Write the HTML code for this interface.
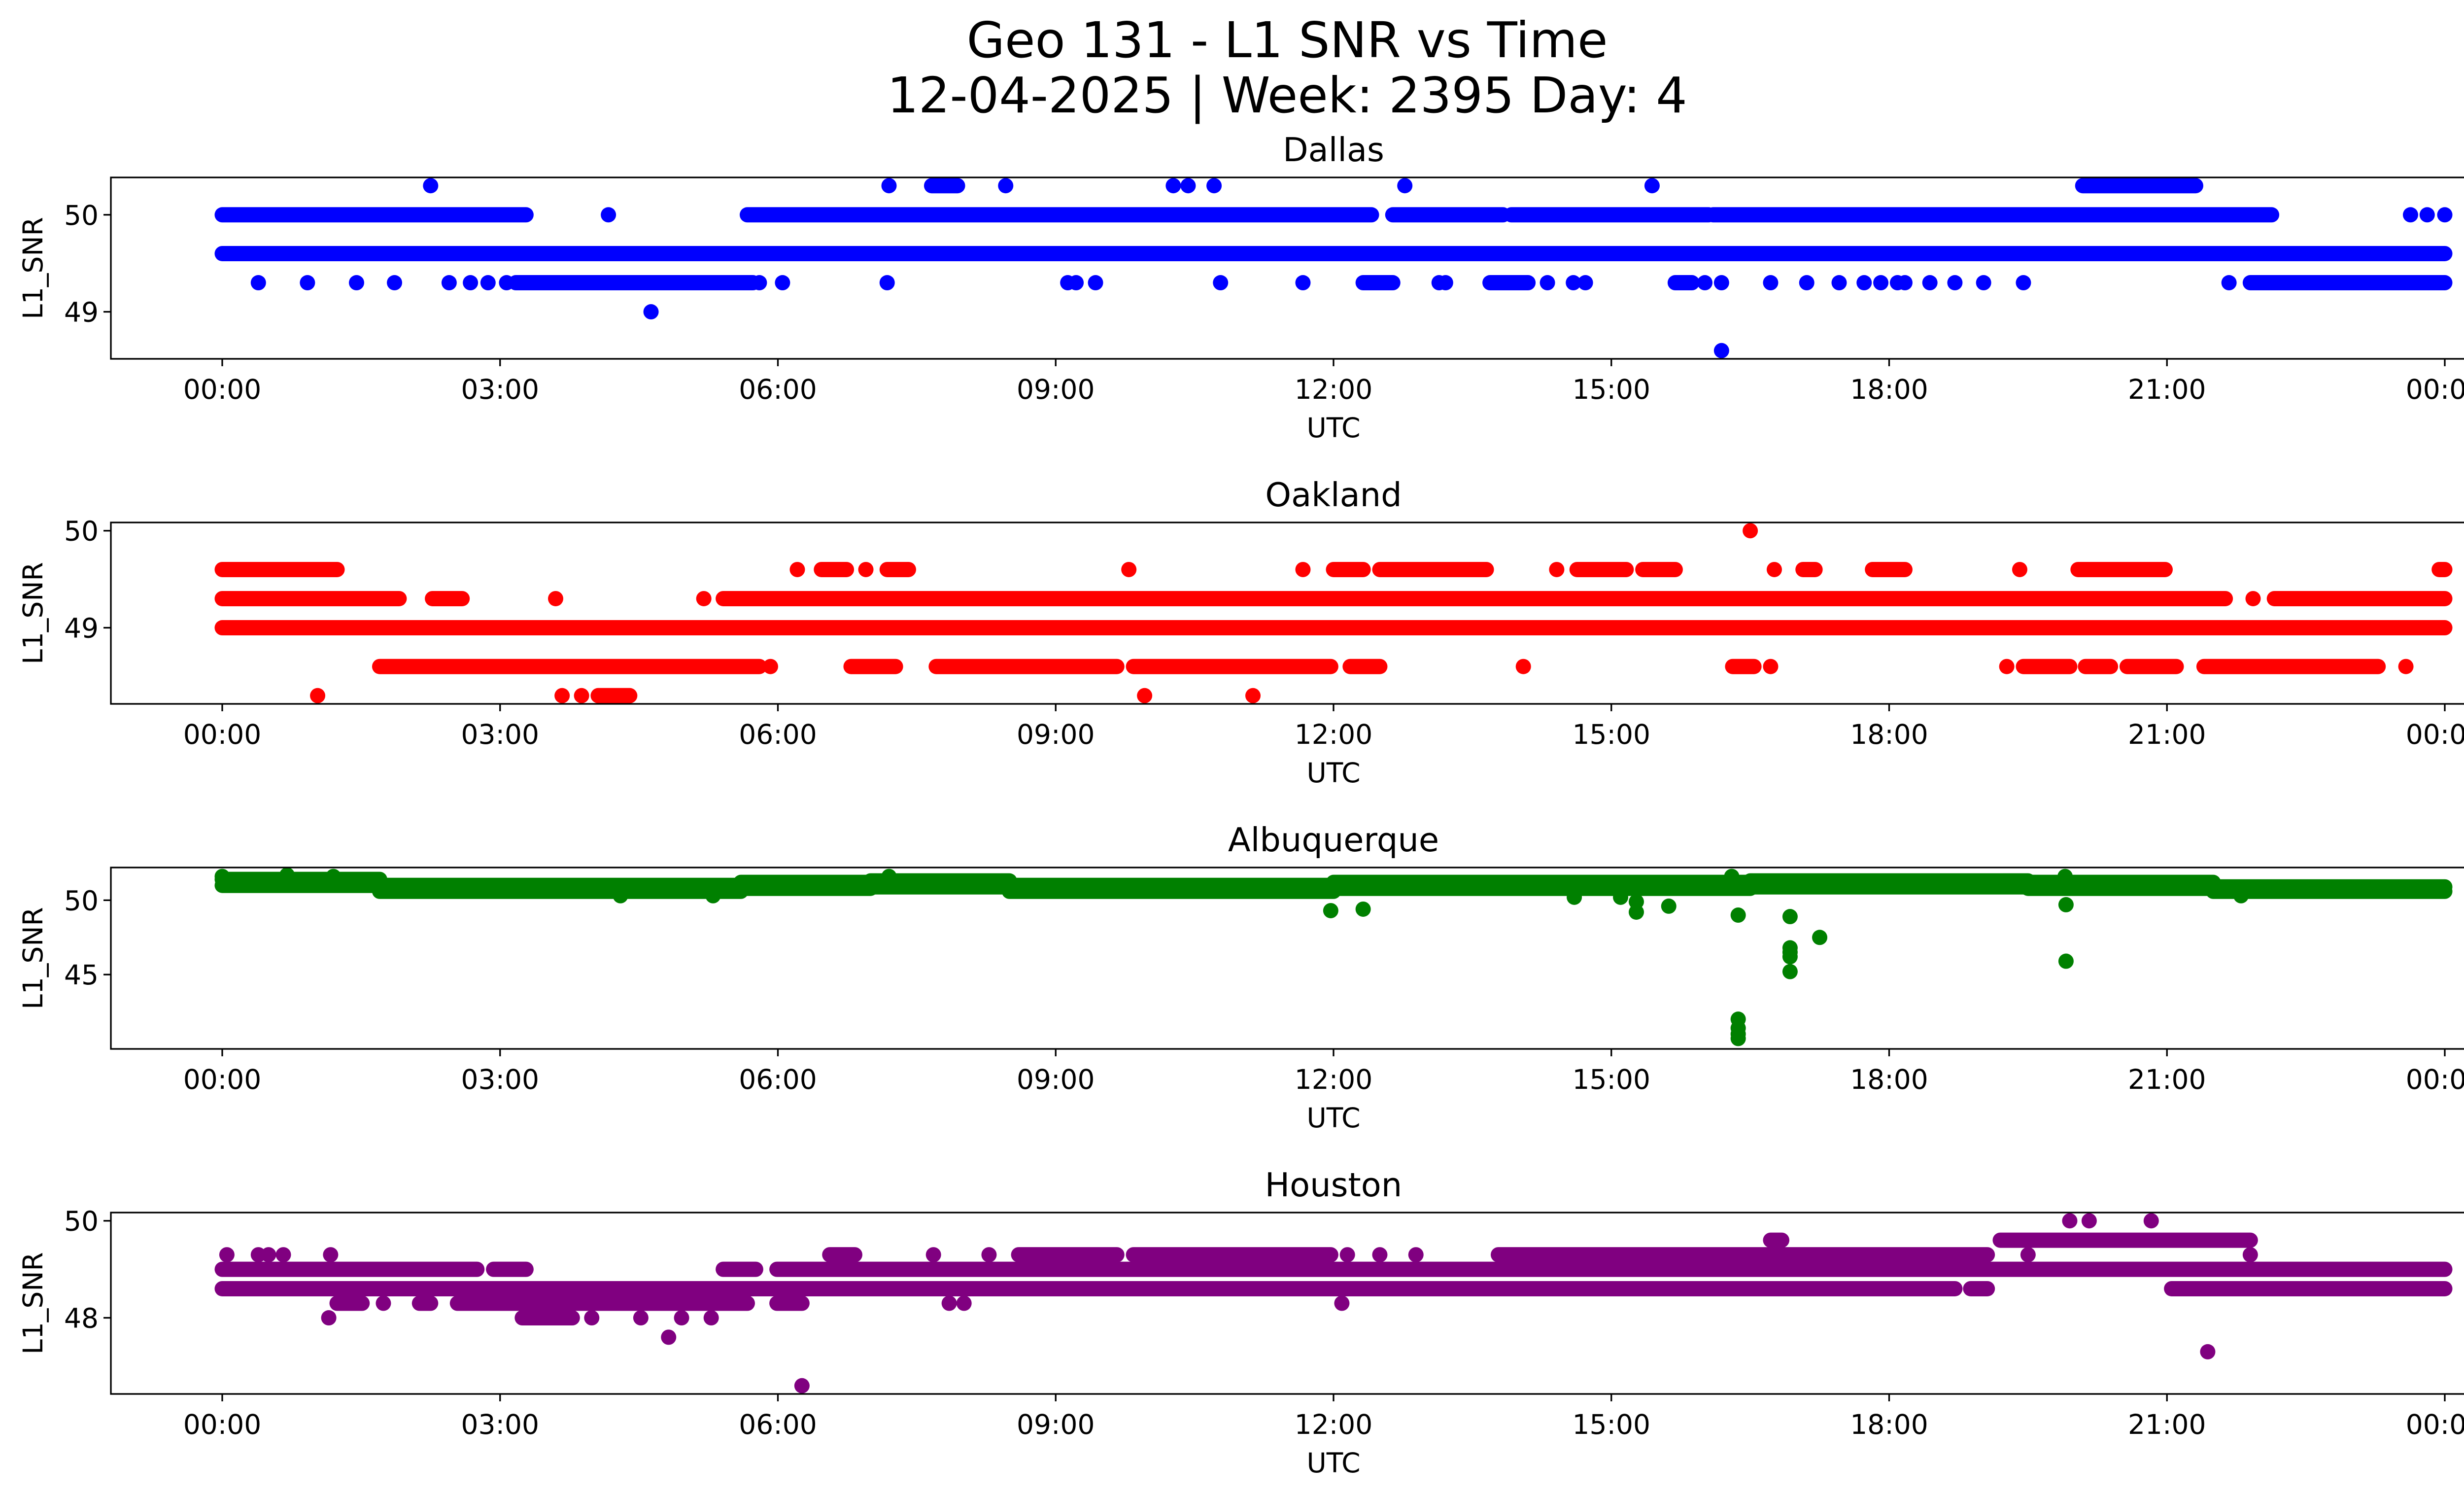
<!DOCTYPE html>
<html><head><meta charset="utf-8"><style>
html,body{margin:0;padding:0;background:#fff}
svg{display:block}
text{font-family:"DejaVu Sans","Liberation Sans",sans-serif;fill:#000}
</style></head><body>
<svg id="fig" width="5225" height="3033" viewBox="0 0 5225 3033" xmlns="http://www.w3.org/2000/svg">
<rect x="0" y="0" width="5225" height="3033" fill="#fff"/>
<text x="2612" y="116" font-size="100" text-anchor="middle">Geo 131 - L1 SNR vs Time</text>
<text x="2612" y="228" font-size="100" text-anchor="middle">12-04-2025 | Week: 2395 Day: 4</text>
</svg>
<script>
// ---- data (hours UTC, L1 SNR); start==end means single point ----
const xTickLabels = ["00:00","03:00","06:00","09:00","12:00","15:00","18:00","21:00","00:00"];
const xTickHours = [0,3,6,9,12,15,18,21,24];

const dallasStart = [0, 0,4.17,5.67,12.64,13.92,16.1,23.63,23.81,24,
 0.39,0.92,1.45,1.86,2.45,2.68,2.87,3.07,3.17,5.8,6.05,7.18,9.13,9.22,9.43,10.78,11.67,12.32,13.14,13.21,13.69,14.31,14.59,14.72,15.69,16.01,16.19,16.72,17.11,17.46,17.73,17.91,18.09,18.17,18.44,18.71,19.02,19.45,21.67,21.9,
 2.25,7.2,7.66,8.46,10.27,10.43,10.71,12.77,15.44,20.09, 4.63,16.19];
const dallasEnd = [24, 3.28,4.17,12.41,13.83,16.05,22.13,23.63,23.81,24,
 0.39,0.92,1.45,1.86,2.45,2.68,2.87,3.07,5.73,5.8,6.05,7.18,9.13,9.22,9.43,10.78,11.67,12.64,13.14,13.21,14.1,14.31,14.59,14.72,15.87,16.01,16.19,16.72,17.11,17.46,17.73,17.91,18.09,18.17,18.44,18.71,19.02,19.45,21.67,24,
 2.25,7.2,7.94,8.46,10.27,10.43,10.71,12.77,15.44,21.31, 4.63,16.19];
const dallasValue = [49.6, 50,50,50,50,50,50,50,50,50,
 49.3,49.3,49.3,49.3,49.3,49.3,49.3,49.3,49.3,49.3,49.3,49.3,49.3,49.3,49.3,49.3,49.3,49.3,49.3,49.3,49.3,49.3,49.3,49.3,49.3,49.3,49.3,49.3,49.3,49.3,49.3,49.3,49.3,49.3,49.3,49.3,49.3,49.3,49.3,49.3,
 50.3,50.3,50.3,50.3,50.3,50.3,50.3,50.3,50.3,50.3, 49,48.6];

const oaklandStart = [0,
 0,6.21,6.47,6.95,7.18,9.79,11.67,12.0,12.5,14.41,14.63,15.34,16.76,17.07,17.82,19.41,20.04,23.94,
 0,2.27,3.6,5.2,5.41,21.93,22.16,
 1.7,5.92,6.79,7.71,9.84,12.18,14.05,16.31,16.72,19.27,19.45,20.12,20.57,21.4,23.58,
 1.03,3.67,3.88,4.06,9.96,11.13, 16.5];
const oaklandEnd = [24,
 1.24,6.21,6.74,6.95,7.41,9.79,11.67,12.32,13.65,14.41,15.16,15.69,16.76,17.2,18.17,19.41,20.98,24,
 1.91,2.59,3.6,5.2,21.63,21.93,24,
 5.8,5.92,7.27,9.66,11.97,12.5,14.05,16.54,16.72,19.27,19.95,20.39,21.1,23.28,23.58,
 1.03,3.67,3.88,4.4,9.96,11.13, 16.5];
const oaklandValue = [49,
 49.6,49.6,49.6,49.6,49.6,49.6,49.6,49.6,49.6,49.6,49.6,49.6,49.6,49.6,49.6,49.6,49.6,49.6,
 49.3,49.3,49.3,49.3,49.3,49.3,49.3,
 48.6,48.6,48.6,48.6,48.6,48.6,48.6,48.6,48.6,48.6,48.6,48.6,48.6,48.6,48.6,
 48.3,48.3,48.3,48.3,48.3,48.3, 50];

const albuqStart = [0,1.7,5.6,7.0,8.5,12.0,16.5,19.5,21.5,
 0,1.7,5.6,7.0,8.5,12.0,16.5,19.5,21.5,
 0,0.7,1.2,7.2,16.3,19.9,4.3,5.3,14.6,15.1,21.8,
 11.97,12.32,15.27,15.27,15.62,16.37,16.37,16.37,16.37,16.37,16.93,16.93,16.93,16.93,16.93,17.25,19.91,19.91];
const albuqEnd = [1.7,5.6,7.0,8.5,12.0,16.5,19.5,21.5,24,
 1.7,5.6,7.0,8.5,12.0,16.5,19.5,21.5,24,
 0,0.7,1.2,7.2,16.3,19.9,4.3,5.3,14.6,15.1,21.8,
 11.97,12.32,15.27,15.27,15.62,16.37,16.37,16.37,16.37,16.37,16.93,16.93,16.93,16.93,16.93,17.25,19.91,19.91];
const albuqValue = [51.4,51.0,51.2,51.3,51.0,51.2,51.3,51.2,50.9,
 51.0,50.6,50.8,50.9,50.6,50.8,50.9,50.8,50.6,
 51.6,51.7,51.6,51.6,51.6,51.6,50.3,50.3,50.2,50.2,50.3,
 49.3,49.4,49.9,49.2,49.6,49.0,42.0,41.4,41.0,40.7,48.9,46.8,46.5,46.2,45.2,47.5,49.7,45.9];

const houstonStart = [0,2.93,5.41,5.99,
 0,18.88,21.05,
 1.24,1.74,2.13,2.54,5.99,7.85,8.01,12.09,
 1.15,3.24,3.99,4.52,4.96,5.28, 4.82,6.26,21.44,
 0.05,0.39,0.5,0.66,1.17,6.56,7.68,8.28,8.6,9.84,12.15,12.5,12.89,13.78,19.5,21.9,
 16.72,19.2, 19.95,20.16,20.83];
const houstonEnd = [2.75,3.28,5.76,24,
 18.71,19.06,24,
 1.51,1.74,2.25,5.67,6.26,7.85,8.01,12.09,
 1.15,3.78,3.99,4.52,4.96,5.28, 4.82,6.26,21.44,
 0.05,0.39,0.5,0.66,1.17,6.83,7.68,8.28,9.66,11.97,12.15,12.5,12.89,19.06,19.5,21.9,
 16.84,21.9, 19.95,20.16,20.83];
const houstonValue = [49,49,49,49,
 48.6,48.6,48.6,
 48.3,48.3,48.3,48.3,48.3,48.3,48.3,48.3,
 48,48,48,48,48,48, 47.6,46.6,47.3,
 49.3,49.3,49.3,49.3,49.3,49.3,49.3,49.3,49.3,49.3,49.3,49.3,49.3,49.3,49.3,49.3,
 49.6,49.6, 50,50,50];

const panels = [
 {name:"dallas", title:"Dallas", color:"#0000ff", top:360, ymin:48.515, ymax:50.385, yticks:[49,50], s:dallasStart, e:dallasEnd, v:dallasValue},
 {name:"oakland", title:"Oakland", color:"#ff0000", top:1060, ymin:48.215, ymax:50.085, yticks:[49,50], s:oaklandStart, e:oaklandEnd, v:oaklandValue},
 {name:"albuquerque", title:"Albuquerque", color:"#008000", top:1760, ymin:40.0, ymax:52.2, yticks:[45,50], s:albuqStart, e:albuqEnd, v:albuqValue},
 {name:"houston", title:"Houston", color:"#800080", top:2460, ymin:46.43, ymax:50.17, yticks:[48,50], s:houstonStart, e:houstonEnd, v:houstonValue}
];

const NS="http://www.w3.org/2000/svg";
const svg=document.getElementById('fig');
const L=225, R=5187, H=368, R0=15.5;
function X(h){return 451 + h*(4510/24);}
function mk(tag,attrs,parent){const el=document.createElementNS(NS,tag);for(const k in attrs)el.setAttribute(k,attrs[k]);(parent||svg).appendChild(el);return el;}

panels.forEach(p=>{
  const g=mk('g',{});
  
  
  const Y=v=>p.top + (p.ymax-v)/(p.ymax-p.ymin)*H;
  const clipId='clip-'+p.name;
  const cp=mk('clipPath',{id:clipId},g);
  mk('rect',{x:L,y:p.top,width:R-L,height:H},cp);
  const marks=mk('g',{'clip-path':'url(#'+clipId+')'},g);
  
  
  for(let i=0;i<p.s.length;i++){
    const x1=X(p.s[i]), x2=X(p.e[i]), y=Y(p.v[i]);
    let el;
    if(p.e[i]===p.s[i]){
      el=mk('circle',{cx:x1,cy:y,r:R0,fill:p.color},marks);
    } else {
      el=mk('line',{x1:x1,y1:y,x2:x2,y2:y,stroke:p.color,'stroke-width':2*R0,'stroke-linecap':'round'},marks);
    }
    
    
  }
  const fr=mk('rect',{x:L,y:p.top,width:R-L,height:H,fill:'none',stroke:'#000','stroke-width':3.3},g);
  
  
  xTickHours.forEach((h,i)=>{
    const x=X(h), yb=p.top+H;
    const t=mk('line',{x1:x,y1:yb,x2:x,y2:yb+15,stroke:'#000','stroke-width':3.3},g);
    
    
    const tl=mk('text',{x:x,y:yb+81,'font-size':55,'text-anchor':'middle'},g);
    tl.textContent=xTickLabels[i];
    
    
  });
  p.yticks.forEach(v=>{
    const y=Y(v);
    const t=mk('line',{x1:L-15,y1:y,x2:L,y2:y,stroke:'#000','stroke-width':3.3},g);
    
    
    const tl=mk('text',{x:L-25,y:y+20,'font-size':55,'text-anchor':'end'},g);
    tl.textContent=String(v);
    
    
  });
  const xl=mk('text',{x:(L+R)/2,y:p.top+H+159,'font-size':55,'text-anchor':'middle'},g);
  xl.textContent='UTC';
  
  
  const yl=mk('text',{x:0,y:0,'font-size':55,'text-anchor':'middle',transform:'translate(86,'+(p.top+H/2)+') rotate(-90)'},g);
  yl.textContent='L1_SNR';
  
  
  const ti=mk('text',{x:(L+R)/2,y:p.top-33,'font-size':67,'text-anchor':'middle'},g);
  ti.textContent=p.title;
  
  
});
</script>
</body></html>
